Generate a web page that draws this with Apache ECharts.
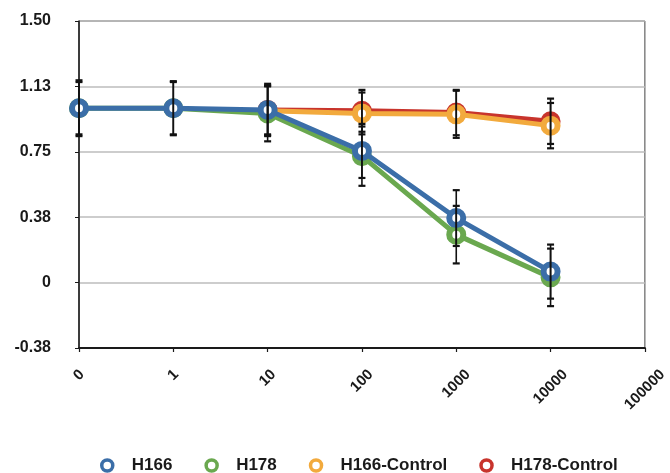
<!DOCTYPE html>
<html>
<head>
<meta charset="utf-8">
<script src="https://cdn.jsdelivr.net/npm/echarts@6/dist/echarts.min.js"></script>
<style>
html,body{margin:0;padding:0;background:#fff;}
#chart{width:670px;height:473px;}
</style>
</head>
<body>
<div id="chart"></div>
<script>
// ---- data ----
var categories = ['0', '1', '10', '100', '1000', '10000', '100000'];
var h166 = [1.00, 1.00, 0.99, 0.755, 0.37, 0.063, '-'];
var h178 = [1.00, 1.00, 0.97, 0.725, 0.275, 0.03, '-'];
var h166Control = ['-', '-', 0.985, 0.97, 0.965, 0.90, '-'];
var h178Control = ['-', '-', 0.99, 0.985, 0.975, 0.925, '-'];
var h166Err = [0.16, 0.155, 0.15, 0.155, 0.16, 0.155, '-'];
var h178Err = [0.15, 0.15, 0.16, 0.17, 0.165, 0.165, '-'];
var h166ControlErr = ['-', '-', 0.14, 0.12, 0.135, 0.13, '-'];
var h178ControlErr = ['-', '-', 0.14, 0.12, 0.13, 0.13, '-'];
var yTicks = [-0.375, 0, 0.375, 0.75, 1.125, 1.5];

var seriesNames = ['H166', 'H178', 'H166-Control', 'H178-Control'];
var seriesColors = ['#3b6ea8', '#6aa84f', '#f2aa3d', '#c8342c'];

// ---- build ----
var FONT = '"Liberation Sans", Arial, sans-serif';
var values = [h166, h178, h166Control, h178Control];
var errs = [h166Err, h178Err, h166ControlErr, h178ControlErr];
var zs = [5, 4, 3, 2];

// measure x-label widths to keep rotated labels top-aligned and centred on ticks
var cv = document.createElement('canvas').getContext('2d');
cv.font = 'bold 15px "Liberation Sans"';
var widths = categories.map(function (c) { return cv.measureText(c).width; });
var minW = Math.min.apply(null, widths);
var rich = {};
categories.forEach(function (c, i) {
  var p = (widths[i] - minW) / 2;
  rich['l' + i] = {fontFamily: FONT, fontWeight: 'bold', fontSize: 15, color: '#1a1a1a', padding: [p, p, 0, 0]};
});

var series = [];
values.forEach(function (vals, k) {
  series.push({
    name: seriesNames[k],
    type: 'line',
    data: vals,
    z: zs[k],
    symbol: 'circle',
    symbolSize: 14,
    showSymbol: true,
    connectNulls: false,
    lineStyle: {color: seriesColors[k], width: 5},
    itemStyle: {color: '#ffffff', borderColor: seriesColors[k], borderWidth: 6},
    emphasis: {disabled: true},
    animation: false
  });
});

var errData = [];
values.forEach(function (vals, k) {
  vals.forEach(function (v, i) {
    if (v !== '-' && errs[k][i] !== '-') errData.push([i, v, errs[k][i]]);
  });
});
series.push({
  type: 'custom',
  z: 10,
  silent: true,
  animation: false,
  data: errData,
  renderItem: function (params, api) {
    var x = api.value(0), v = api.value(1), e = api.value(2);
    var hi = api.coord([x, v + e]);
    var lo = api.coord([x, v - e]);
    var cw = 3.5;
    var st = {stroke: '#111', lineWidth: 1.6};
    return {
      type: 'group',
      children: [
        {type: 'line', shape: {x1: hi[0], y1: hi[1], x2: lo[0], y2: lo[1]}, style: st},
        {type: 'line', shape: {x1: hi[0] - cw, y1: hi[1], x2: hi[0] + cw, y2: hi[1]}, style: {stroke: '#111', lineWidth: 2.2}},
        {type: 'line', shape: {x1: lo[0] - cw, y1: lo[1], x2: lo[0] + cw, y2: lo[1]}, style: {stroke: '#111', lineWidth: 2.2}}
      ]
    };
  }
});

var chart = echarts.init(document.getElementById('chart'), null, {renderer: 'canvas'});
chart.setOption({
  animation: false,
  backgroundColor: '#ffffff',
  grid: {left: 79, right: 25, top: 21, bottom: 125, show: true, borderColor: '#444', borderWidth: 1, backgroundColor: 'transparent'},
  legend: {
    data: seriesNames,
    icon: 'circle',
    left: 95,
    top: 452,
    itemWidth: 11,
    itemHeight: 11,
    itemGap: 32,
    itemStyle: {borderWidth: 3.5},
    textStyle: {fontFamily: FONT, fontWeight: 'bold', fontSize: 17, color: '#1a1a1a', padding: [0, 0, 0, 14]}
  },
  xAxis: {
    type: 'category',
    data: categories,
    boundaryGap: false,
    axisLine: {onZero: false, lineStyle: {color: '#1a1a1a', width: 2}},
    axisTick: {show: true, length: 4, alignWithLabel: true, lineStyle: {color: '#1a1a1a', width: 1.2}},
    splitLine: {show: false},
    axisLabel: {
      interval: 0,
      rotate: 45,
      margin: 27,
      align: 'center',
      verticalAlign: 'middle',
      formatter: function (val, i) { return '{l' + i + '|' + val + '}'; },
      rich: rich
    }
  },
  yAxis: {
    type: 'value',
    min: yTicks[0],
    max: yTicks[yTicks.length - 1],
    interval: 0.375,
    axisLine: {show: true, lineStyle: {color: '#1a1a1a', width: 1.5}},
    axisTick: {show: true, length: 4, lineStyle: {color: '#1a1a1a'}},
    splitLine: {show: true, lineStyle: {color: '#bdbdbd', width: 1.5}},
    axisLabel: {
      margin: 28,
      fontFamily: FONT,
      fontWeight: 'bold',
      fontSize: 16,
      color: '#1a1a1a',
      formatter: function (v) { return Math.abs(v) < 1e-9 ? '0' : v.toFixed(2); }
    }
  },
  series: series
});
</script>
</body>
</html>
